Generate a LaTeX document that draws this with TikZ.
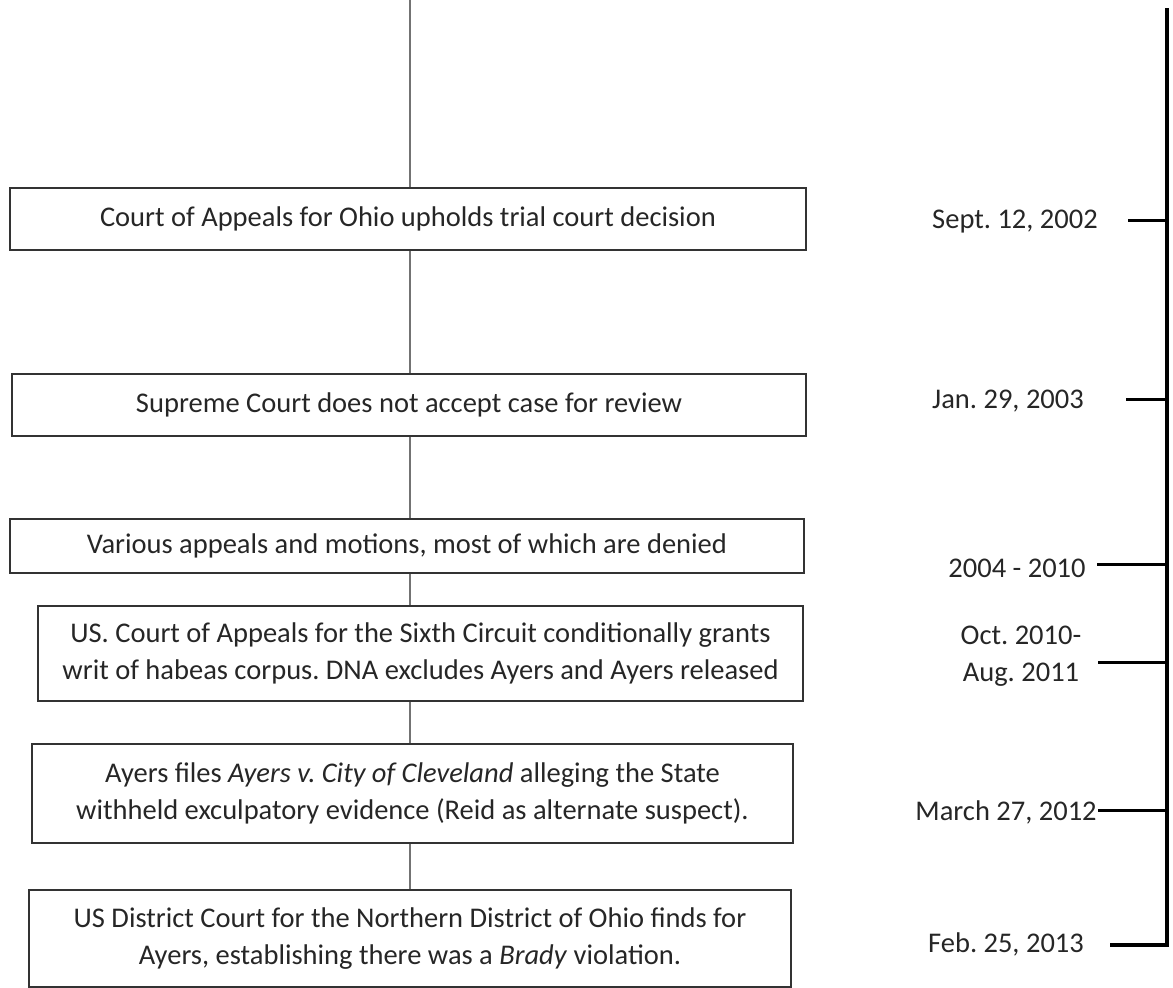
\documentclass[tikz,border=0pt]{standalone}
\usepackage{fontspec}
\setmainfont{Carlito}
\usepackage{tikz}
\frenchspacing

\begin{document}
\begin{tikzpicture}[x=1pt, y=-1pt,
    font=\fontsize{28.5}{37}\selectfont,
    box/.style={draw=black!80, line width=1.5pt, align=center, inner sep=0pt, text=black!85},
    link/.style={draw=black!55, line width=2pt},
    date/.style={align=center, text=black!85},
    spine/.style={line width=3.5pt, black, line join=miter},
    datetick/.style={line width=3pt, black}]
  \useasboundingbox (0,0) rectangle (1173,988);

  % Event boxes
  \node[box, minimum width=796pt, minimum height=62pt] (appeals) at (408,219)
    {Court of Appeals for Ohio upholds trial court decision};
  \node[box, minimum width=794pt, minimum height=62pt] (supreme) at (409,405)
    {Supreme Court does not accept case for review};
  \node[box, minimum width=794pt, minimum height=54pt] (various) at (407,546)
    {Various appeals and motions, most of which are denied};
  \node[box, minimum width=765pt, minimum height=95pt] (sixth) at (420.5,653.5)
    {US. Court of Appeals for the Sixth Circuit conditionally grants\\
     writ of habeas corpus. DNA excludes Ayers and Ayers released};
  \node[box, minimum width=761pt, minimum height=99pt] (civil) at (412.5,793.5)
    {Ayers files \textit{Ayers v. City of Cleveland} alleging the State\\
     withheld exculpatory evidence (Reid as alternate suspect).};
  \node[box, minimum width=762pt, minimum height=97pt] (district) at (410,938.5)
    {US District Court for the Northern District of Ohio finds for\\
     Ayers, establishing there was a \textit{Brady} violation.};

  % Vertical connectors
  \coordinate (top) at (410,0);
  \draw[link] (top) -- (appeals.north -| top);
  \draw[link] (appeals.south -| top) -- (supreme.north -| top);
  \draw[link] (supreme.south -| top) -- (various.north -| top);
  \draw[link] (various.south -| top) -- (sixth.north -| top);
  \draw[link] (sixth.south -| top) -- (civil.north -| top);
  \draw[link] (civil.south -| top) -- (district.north -| top);

  % Dates
  \node[date] (d1) at (1015,222) {Sept. 12, 2002};
  \node[date] (d2) at (1008,401) {Jan. 29, 2003};
  \node[date] (d3) at (1017,568) {2004 - 2010};
  \node[date] (d4) at (1021,656) {Oct. 2010-\\Aug. 2011};
  \node[date] (d5) at (1006,812) {March 27, 2012};
  \node[date] (d6) at (1006,944) {Feb. 25, 2013};

  % Timeline spine and ticks
  \coordinate (spinetop) at (1167,8);
  \coordinate (spinebot) at (1167,945);
  \coordinate (t1) at (1128,220);
  \coordinate (t2) at (1126,399);
  \coordinate (t3) at (1097,564);
  \coordinate (t4) at (1098,662);
  \coordinate (t5) at (1098,810);
  \coordinate (t6) at (1110,945);
  \draw[spine] (spinetop) -- (spinebot) -- (t6);
  \draw[datetick] (t1) -- (t1 -| spinetop);
  \draw[datetick] (t2) -- (t2 -| spinetop);
  \draw[datetick] (t3) -- (t3 -| spinetop);
  \draw[datetick] (t4) -- (t4 -| spinetop);
  \draw[datetick] (t5) -- (t5 -| spinetop);
\end{tikzpicture}
\end{document}
